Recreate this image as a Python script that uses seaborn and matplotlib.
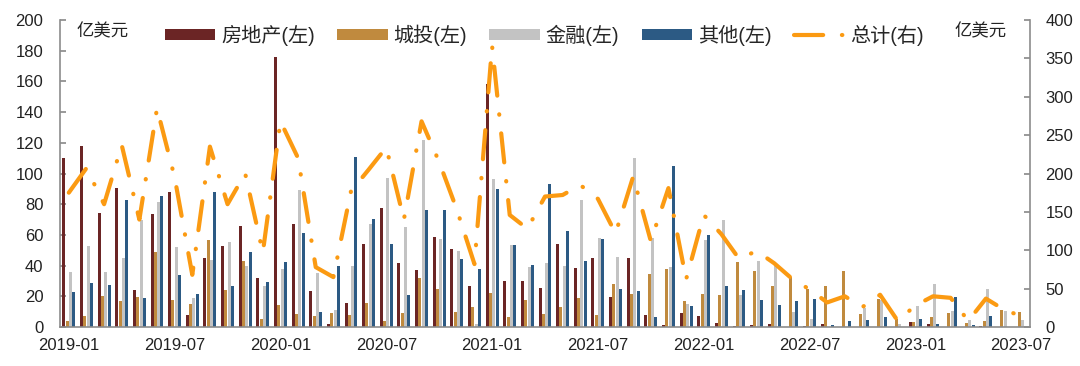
import matplotlib
matplotlib.use('Agg')
import matplotlib.pyplot as plt
import seaborn as sns
import numpy as np
import pandas as pd
from matplotlib.patches import Patch
from matplotlib.lines import Line2D

# 月份 2019-01 ~ 2023-07
months = [str(p) for p in pd.period_range('2019-01', '2023-07', freq='M')]

# 亿美元 (左轴)
real_estate = [110, 118, 74, 90.5, 24, 73.5, 88, 7.6, 45, 53,
               66, 32, 176, 67, 23.5, 2.2, 15.4, 54.3, 77.7, 42,
               37, 58.8, 50.6, 26.5, 158, 30, 29.7, 25.6, 53.9, 38.7,
               44.7, 19.8, 44.7, 8, 1, 8.9, 7.4, 2.8, 0.4, 1.3,
               1.7, 0.2, 0.4, 1.7, 0, 0, 0, 0, 3.5, 2.2,
               0, 0, 0.4, 0, 0]
lgfv = [4, 7.4, 20.4, 16.7, 19.5, 49, 17.4, 15.2, 56.5, 24,
        43, 5, 14.3, 8.7, 7.2, 9.3, 7.6, 15.9, 4, 9.3,
        32, 25, 9.8, 13, 22, 6.5, 17.8, 8.3, 13.2, 18.7,
        7.8, 28.2, 21.3, 34.3, 37.8, 16.7, 21.7, 20.6, 42.3, 36.5,
        26.7, 32.6, 25, 27, 36.7, 8.7, 18, 5, 3.5, 6.5,
        9.3, 2.8, 3.9, 10.9, 9.8]
finance = [36, 53, 36, 45, 70, 81.4, 52, 19, 43.6, 55.4,
           39.7, 27, 38, 89, 35.4, 10.9, 40, 67.3, 97.3, 65.4,
           121.8, 57.5, 49.3, 2, 96.6, 53.6, 39, 42, 39.5, 82.5,
           57.8, 45.6, 110, 57.8, 39, 15.2, 57, 70, 21, 42.7,
           40, 9.8, 5.2, 0, 0, 12.6, 17.6, 1.7, 13.7, 28,
           10.4, 4.3, 24.5, 10.4, 4.3]
other = [23, 28.5, 27.4, 83, 18.7, 85.6, 34, 21.3, 88, 26.5,
         49, 29.3, 42.3, 61.2, 9.6, 40, 111, 70.6, 53.9, 21,
         76, 76, 44, 37.8, 89.7, 53.6, 40.2, 93.4, 62.3, 43,
         57.1, 24.5, 23.5, 6.5, 105, 13.7, 60, 27, 24.4, 17.4,
         14.2, 16.8, 18, 1.3, 3.9, 4.3, 6.7, 0, 5, 2.2,
         19.3, 1.3, 7.2, 0, 0]
# 总计 (右轴)
total = [175, 207, 160, 237, 140, 285, 195, 68, 235, 160,
         200, 97, 268, 220, 78, 65, 177, 205, 234, 140,
         268, 215, 153, 82, 366, 146, 128, 170, 172, 185,
         167, 122, 196, 112, 181, 62, 146, 121, 89, 99,
         83, 63, 49, 32, 40, 26, 42, 8, 28, 40,
         38, 8, 37, 23, 14]

names = ['房地产(左)', '城投(左)', '金融(左)', '其他(左)']
colors = ['#6B2525', '#C08A3E', '#C3C3C3', '#2C5A84']
orange = '#FB9A12'
dash = (0, (7, 4.5, 0.1, 4.5))

sns.set_theme(style="white")
plt.rcParams['font.family'] = ['Liberation Sans', 'Noto Sans CJK SC']

df = pd.DataFrame({
    'month': months * 4,
    'type': [n for n in names for _ in months],
    'value': real_estate + lgfv + finance + other,
})

fig = plt.figure(figsize=(10.8, 3.66), dpi=100)
ax = fig.add_axes([60 / 1080, 39 / 366, 970 / 1080, 307 / 366])
sns.barplot(data=df, x='month', y='value', hue='type', order=months,
            hue_order=names, palette=colors, saturation=1, width=0.75,
            gap=0.1, linewidth=0, legend=False, ax=ax)
ax.set_xlim(-0.5, 54.5)
ax.set_ylim(0, 200)
ax.set_yticks(range(0, 201, 20))
ax.set_xticks(range(0, 55, 6), months[::6])
ax.set_xticks(np.arange(5.5, 55, 6), minor=True)
ax.set_xlabel('')
ax.set_ylabel('')

ax2 = ax.twinx()
ax2.plot(np.arange(len(total)), total, color=orange, lw=3,
         linestyle=dash, dash_capstyle='round')
ax2.set_ylim(0, 400)
ax2.set_yticks(range(0, 401, 50))

grey = '#8C8C8C'
for a in (ax, ax2):
    a.spines['top'].set_visible(False)
    for s in ('left', 'right', 'bottom'):
        a.spines[s].set_color(grey)
        a.spines[s].set_linewidth(1.2)
ax.spines['right'].set_visible(False)
ax2.spines['left'].set_visible(False)
ax2.spines['bottom'].set_visible(False)

ax.tick_params(axis='x', which='major', length=0, pad=8, labelsize=12,
               colors='#222222')
ax.tick_params(axis='x', which='minor', length=3, direction='in',
               color='#A0A0A0', width=1)
ax.tick_params(axis='y', direction='in', length=4, color=grey, pad=12,
               labelsize=12, labelcolor='#222222', left=True)
ax2.tick_params(axis='y', direction='in', length=4, color=grey, pad=11,
                labelsize=12, labelcolor='#222222', right=True)

handles = [Patch(facecolor=c, edgecolor='none') for c in colors]
handles.append(Line2D([0], [0], color=orange, lw=3, linestyle=dash,
                      dash_capstyle='round'))
fig.legend(handles, names + ['总计(右)'], loc='center left',
           bbox_to_anchor=(165 / 1080, 1 - 35 / 366), ncol=5, frameon=False,
           fontsize=14.5, handlelength=2.5, handleheight=0.5,
           handletextpad=0.3, columnspacing=1.1, borderpad=0,
           borderaxespad=0)

fig.text(77 / 1080, 1 - 31 / 366, '亿美元', fontsize=12.5, va='center',
         color='#222222')
fig.text(955 / 1080, 1 - 31 / 366, '亿美元', fontsize=12.5, va='center',
         color='#222222')

fig.savefig('out.png', dpi=100)
